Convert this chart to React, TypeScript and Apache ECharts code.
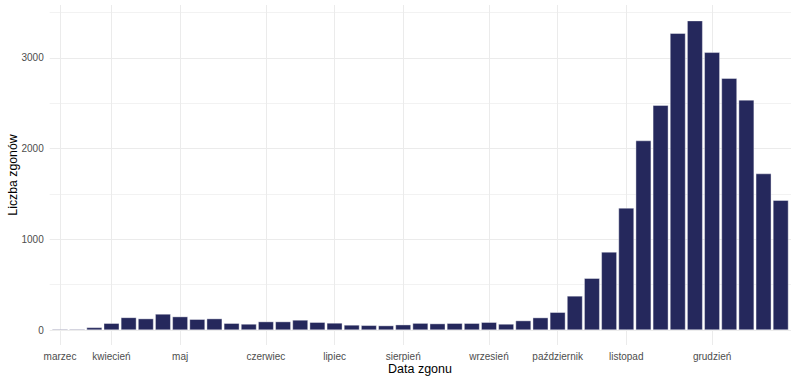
import React, { useEffect, useRef } from "react";
import * as echarts from "echarts";

// Weekly deaths (index = week from start of March 2020)
const weekValues: number[] = [
  9, 9, 28, 74, 138, 125, 176, 147, 118, 125,
  74, 66, 92, 92, 110, 85, 77, 55, 51, 48,
  58, 75, 70, 74, 74, 85, 66, 103, 136, 195,
  375, 570, 860, 1345, 2088, 2477, 3271, 3410, 3061, 2775,
  2536, 1724, 1430,
];
const weekCategories: string[] = weekValues.map((_, i) => `t${i + 1}`);

// Month labels and the week index at which each is placed
const monthLabels: string[] = [
  "marzec", "kwiecień", "maj", "czerwiec", "lipiec",
  "sierpień", "wrzesień", "październik", "listopad", "grudzień",
];
const monthWeekIndex: number[] = [0, 3, 7, 12, 16, 20, 25, 29, 33, 38];

const yTickLabels: number[] = [0, 1000, 2000, 3000];

const FONT = "'Liberation Sans', Arial, sans-serif";

export default function App() {
  const ref = useRef<HTMLDivElement>(null);
  useEffect(() => {
    if (!ref.current) return;
    const chart = echarts.init(ref.current, null, { renderer: "svg" });
    const labelAt = (i: number) => monthWeekIndex.indexOf(i);
    chart.setOption({
      animation: false,
      backgroundColor: "#ffffff",
      grid: [
        { left: 49.7, right: 9, top: 12.55, bottom: 53, containLabel: false },
        { left: 60, right: 19.3, top: 5, bottom: 38, containLabel: false },
      ],
      xAxis: [
        { type: "value", gridIndex: 0, show: false, min: 0, max: 1 },
        {
          type: "category",
          gridIndex: 1,
          data: weekCategories,
          boundaryGap: false,
          axisLine: { show: false },
          axisTick: { show: false },
          axisLabel: {
            interval: (i: number) => labelAt(i) >= 0,
            formatter: (_v: string, i: number) => {
              const k = labelAt(i);
              return k >= 0 ? monthLabels[k] : "";
            },
            color: "#4d4d4d",
            fontSize: 10,
            fontFamily: FONT,
            margin: 6,
          },
          splitLine: {
            show: true,
            interval: (i: number) => labelAt(i) >= 0,
            lineStyle: { color: "#ebebeb", width: 1 },
          },
        },
      ],
      yAxis: [
        {
          type: "value",
          gridIndex: 0,
          min: 0,
          max: 3500,
          interval: 500,
          axisLine: { show: false },
          axisTick: { show: false },
          axisLabel: {
            formatter: (v: number) => (yTickLabels.includes(v) ? String(v) : ""),
            color: "#4d4d4d",
            fontSize: 10,
            fontFamily: FONT,
            margin: 6,
          },
          splitLine: {
            show: true,
            lineStyle: { color: ["#ebebeb", "#f2f2f2"], width: 1 },
          },
        },
        {
          type: "value",
          gridIndex: 1,
          min: -165.4,
          max: 3583,
          show: false,
          splitLine: { show: false },
        },
      ],
      series: [
        {
          type: "bar",
          xAxisIndex: 1,
          yAxisIndex: 1,
          data: weekValues,
          barWidth: 15.4,
          itemStyle: { color: "#25285c", borderColor: "#ffffff", borderWidth: 0.4 },
        },
      ],
      graphic: [
        {
          type: "text",
          x: 420,
          y: 369,
          style: {
            text: "Data zgonu",
            fill: "#000000",
            fontSize: 12.5,
            fontFamily: FONT,
            align: "center",
            verticalAlign: "middle",
          },
        },
        {
          type: "text",
          x: 12.5,
          y: 175,
          rotation: Math.PI / 2,
          style: {
            text: "Liczba zgonów",
            fill: "#000000",
            fontSize: 12.3,
            fontFamily: FONT,
            align: "center",
            verticalAlign: "middle",
          },
        },
      ],
    });
    return () => chart.dispose();
  }, []);
  return <div ref={ref} style={{ width: 800, height: 383, position: "absolute", left: 0, top: 0 }} />;
}
